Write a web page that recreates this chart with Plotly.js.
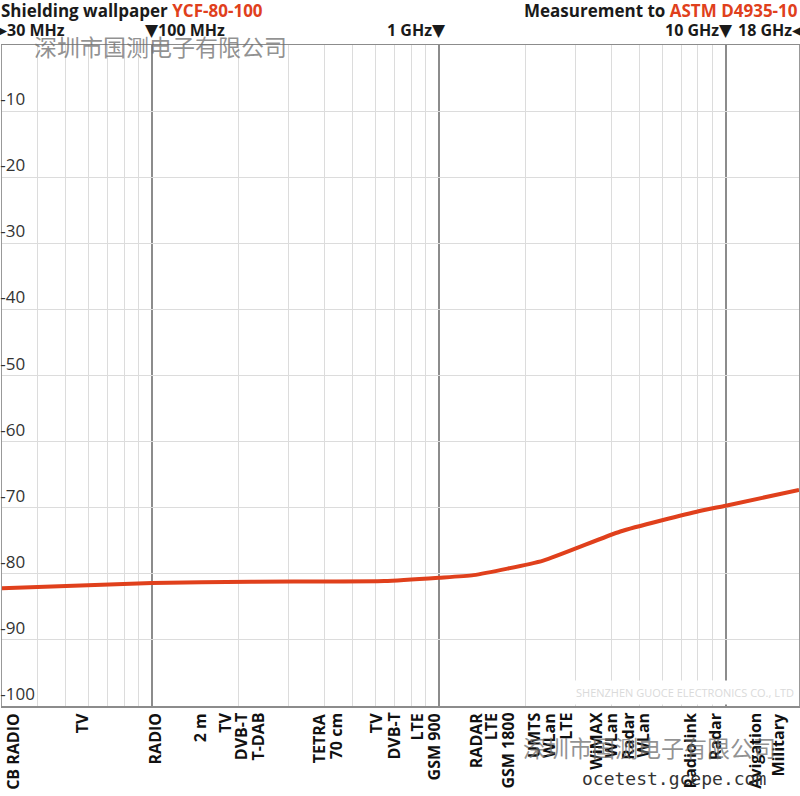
<!DOCTYPE html>
<html><head><meta charset="utf-8">
<script src="https://cdn.plot.ly/plotly-3.0.1.min.js"></script>
<style>html,body{margin:0;padding:0;background:#fff;overflow:hidden}#chart{width:800px;height:796px}</style>
</head><body><div id="chart"></div>
<script>
// Shielding attenuation curve (frequency in MHz, attenuation in dB)
const freqMHz = [30, 100, 222, 645, 1000, 1320, 2310, 4290, 8100, 10000, 18000];
const attenuationDb = [-82.2, -81.4, -81.2, -81.1, -80.6, -80.2, -78.0, -73.6, -70.5, -69.7, -67.3];

const yTickVals = [-10, -20, -30, -40, -50, -60, -70, -80, -90, -100];
const yTickText = ["-10", "-20", "-30", "-40", "-50", "-60", "-70", "-80", "-90", "-100"];

const decadeLines = [100, 1000, 10000];
const minorLines = [40, 50, 60, 70, 80, 90, 200, 300, 400, 500, 600, 700, 800, 900,
                    2000, 3000, 4000, 5000, 6000, 7000, 8000, 9000];

// Band labels under the axis (text and frequency of the label column, MHz)
const bandLabels = ["CB RADIO", "TV", "RADIO", "2 m", "TV", "DVB-T", "T-DAB", "TETRA", "70 cm",
  "TV", "DVB-T", "LTE", "GSM 900", "RADAR", "LTE", "GSM 1800", "UMTS", "WLan", "LTE",
  "WiMAX", "WLan", "Radar", "WLan", "Radiolink", "Radar", "Avigation", "Military"];
const bandFreqMHz = [32.6, 57.1, 102.4, 146.8, 179.3, 203.7, 233.4, 383.1, 438.9,
  604.3, 692.3, 838.6, 960.8, 1344, 1516, 1736, 2137, 2409, 2760,
  3509, 3956, 4533, 5110, 7499, 9160, 12610, 15160];

// Frequency markers in the header
const markerText = ["100 MHz", "1 GHz", "10 GHz"];
const markerFreqMHz = [100, 1000, 10000];

const RED = "#e0401c";
const FONT = "Open Sans, Noto Sans, sans-serif";
const TRI = (c) => "<span style='font-family:DejaVu Sans;font-size:17px'>" + c + "</span>";

const annotations = [];
// header line 1
annotations.push({xref: "paper", yref: "paper", x: 0, y: 1.0525, xanchor: "left", yanchor: "middle", xshift: -3,
  showarrow: false, text: "<b>Shielding wallpaper <span style='color:" + RED + "'>YCF-80-100</span></b>",
  font: {family: FONT, size: 17, color: "#1a1a1a"}});
annotations.push({xref: "paper", yref: "paper", x: 1, y: 1.0525, xanchor: "right", yanchor: "middle", xshift: 1,
  showarrow: false, text: "<b>Measurement to <span style='color:" + RED + "'>ASTM D4935-10</span></b>",
  font: {family: FONT, size: 17, color: "#1a1a1a"}});
// header line 2
annotations.push({xref: "paper", yref: "paper", x: 0, y: 1.0227, xanchor: "left", yanchor: "middle", xshift: -10,
  showarrow: false, text: "<b>" + TRI("▶") + "30 MHz</b>", font: {family: FONT, size: 16, color: "#1a1a1a"}});
annotations.push({xref: "x", yref: "paper", x: Math.log10(markerFreqMHz[0]), y: 1.0227, xanchor: "left", yanchor: "middle", xshift: -9,
  showarrow: false, text: "<b>" + TRI("▼") + markerText[0] + "</b>", font: {family: FONT, size: 16, color: "#1a1a1a"}});
for (let i = 1; i < markerText.length; i++) {
  annotations.push({xref: "x", yref: "paper", x: Math.log10(markerFreqMHz[i]), y: 1.0227, xanchor: "right", yanchor: "middle", xshift: 9,
    showarrow: false, text: "<b>" + markerText[i] + TRI("▼") + "</b>", font: {family: FONT, size: 16, color: "#1a1a1a"}});
}
annotations.push({xref: "paper", yref: "paper", x: 1, y: 1.0227, xanchor: "right", yanchor: "middle", xshift: 9,
  showarrow: false, text: "<b>18 GHz" + TRI("◀") + "</b>", font: {family: FONT, size: 16, color: "#1a1a1a"}});

// band labels
for (let i = 0; i < bandLabels.length; i++) {
  annotations.push({xref: "x", yref: "paper", x: Math.log10(bandFreqMHz[i]), y: 0, xanchor: "center", yanchor: "top",
    yshift: -5, textangle: -90, showarrow: false, text: "<b>" + bandLabels[i] + "</b>",
    font: {family: FONT, size: 16, color: "#111"}});
}

// watermarks
annotations.push({xref: "paper", yref: "paper", x: 0.0375, y: 0.9985, xanchor: "left", yanchor: "middle",
  showarrow: false, text: "深圳市国测电子有限公司", font: {family: "Noto Sans CJK SC", size: 23, color: "rgba(110,110,110,0.75)"}});
annotations.push({xref: "paper", yref: "paper", x: 0.651, y: -0.062, xanchor: "left", yanchor: "middle",
  showarrow: false, text: "深圳市国测电子有限公司", font: {family: "Noto Sans CJK SC", size: 23, color: "rgba(110,110,110,0.75)"}});
annotations.push({xref: "paper", yref: "paper", x: 0.725, y: -0.109, xanchor: "left", yanchor: "middle",
  showarrow: false, text: "ocetest.gcepe.com", font: {family: "DejaVu Sans Mono", size: 18, color: "#333"}});
annotations.push({xref: "paper", yref: "paper", x: 1, y: 0.0, xanchor: "right", yanchor: "bottom", yshift: 1,
  showarrow: false, bgcolor: "#ffffff", borderpad: 4, text: "SHENZHEN GUOCE ELECTRONICS CO., LTD",
  font: {family: FONT, size: 11, color: "#dadada"}});

const trace = {
  type: "scatter", mode: "lines", x: freqMHz, y: attenuationDb,
  line: {color: RED, width: 4, shape: "spline", smoothing: 0.5},
  hoverinfo: "skip"
};

const layout = {
  width: 800, height: 796,
  margin: {l: 2, r: 1, t: 45, b: 90, pad: 0},
  paper_bgcolor: "#fff", plot_bgcolor: "#fff",
  showlegend: false,
  xaxis: {
    type: "log", range: [Math.log10(30), Math.log10(18000)],
    tickmode: "array", tickvals: decadeLines, showticklabels: false, ticks: "",
    showgrid: true, gridcolor: "#8c8c8c", gridwidth: 2,
    minor: {tickmode: "array", tickvals: minorLines, showgrid: true, gridcolor: "#dcdcdc", gridwidth: 1, ticks: ""},
    showline: true, mirror: true, linecolor: "#8c8c8c", linewidth: 1.5, zeroline: false
  },
  yaxis: {
    range: [-100, 0], tickmode: "array", tickvals: yTickVals, ticktext: yTickText,
    ticklabelposition: "inside top", ticks: "", ticklabelstandoff: -2,
    tickfont: {family: FONT, size: 17, color: "#333"},
    showgrid: true, gridcolor: "#dcdcdc", gridwidth: 1,
    showline: true, mirror: true, linecolor: "#999", linewidth: 1.5, zeroline: false
  },
  annotations: annotations
};

Plotly.newPlot("chart", [trace], layout, {displayModeBar: false, staticPlot: true});
</script>
</body></html>
